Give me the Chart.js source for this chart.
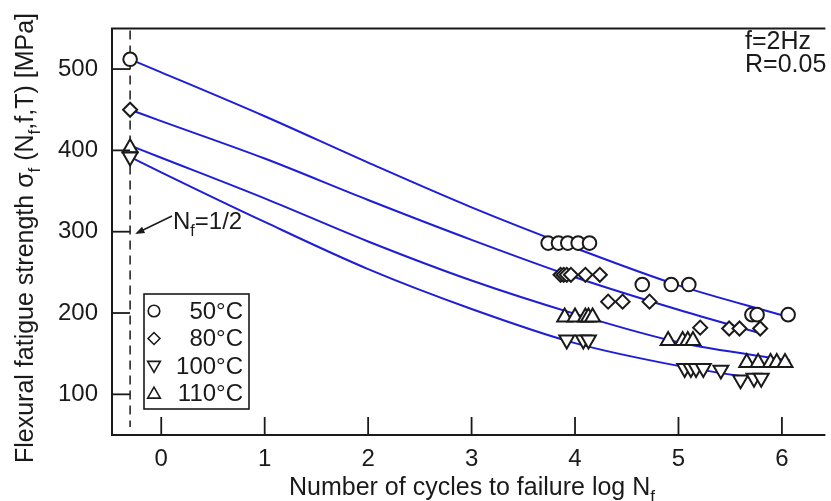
<!DOCTYPE html>
<html><head><meta charset="utf-8">
<script src="https://cdn.jsdelivr.net/npm/chart.js@4.4.0/dist/chart.umd.min.js"></script>
<style>html,body{margin:0;padding:0;background:#fff;overflow:hidden}#wrap{width:831px;height:501px;position:relative}</style>
</head><body><div id="wrap"><canvas id="c"></canvas></div>
<script>
// ---- data ----
const seriesNames = ['50°C', '80°C', '100°C', '110°C'];
const xTicks = [0, 1, 2, 3, 4, 5, 6];
const yTicks = [100, 200, 300, 400, 500];
const halfCycle = -0.301; // log10(1/2)

const pt50x = [-0.301, 3.74, 3.84, 3.93, 4.03, 4.14, 4.65, 4.93, 5.10, 5.71, 5.76, 6.06];
const pt50y = [512, 286, 286, 286, 286, 286, 235, 235, 235, 198, 198, 198];
const pt80x = [-0.301, 3.86, 3.89, 3.92, 3.96, 4.10, 4.24, 4.32, 4.46, 4.72, 5.21, 5.49, 5.59, 5.79];
const pt80y = [450, 247, 247, 247, 247, 247, 247, 214, 214, 214, 182, 181, 181, 181];
const pt100x = [-0.301, 3.92, 4.08, 4.13, 5.06, 5.12, 5.17, 5.24, 5.41, 5.60, 5.73, 5.80];
const pt100y = [392, 167, 167, 167, 132, 132, 132, 132, 130, 118, 120, 120];
const pt110x = [-0.301, 3.90, 4.00, 4.10, 4.13, 4.17, 4.90, 5.04, 5.09, 5.14, 5.66, 5.77, 5.89, 5.95, 6.03];
const pt110y = [403, 195, 195, 195, 195, 195, 166, 166, 166, 166, 139, 139, 139, 139, 139];

const fit50x = [-0.301, 0, 1, 2, 3, 4, 5, 6.01];
const fit50y = [512, 496, 442, 385, 330, 280, 234, 197];
const fit80x = [-0.301, 0, 1, 2, 3, 4, 5, 5.79];
const fit80y = [450, 436, 390, 339, 290, 244, 204, 175];
const fit100x = [-0.301, 0, 1, 2, 3, 4, 5, 5.82];
const fit100y = [392, 373, 312, 254, 205, 163, 135, 118];
const fit110x = [-0.301, 0, 1, 2, 3, 4, 5, 6, 6.08];
const fit110y = [406, 391, 341, 288, 240, 199, 164, 143, 141.5];

// ---- styles ----
const FONT = "'Liberation Sans', Arial, Helvetica, sans-serif";
const INK = '#1a1a1a';
const BLUE = 'rgb(30,30,215)';
const markerStyles = [
  {pointStyle: 'circle', rotation: 0, radius: 6.8},
  {pointStyle: 'rectRot', rotation: 0, radius: 7},
  {pointStyle: 'triangle', rotation: 180, radius: 8.6},
  {pointStyle: 'triangle', rotation: 0, radius: 8.6}
];
const ptX = [pt50x, pt80x, pt100x, pt110x];
const ptY = [pt50y, pt80y, pt100y, pt110y];
const fitX = [fit50x, fit80x, fit100x, fit110x];
const fitY = [fit50y, fit80y, fit100y, fit110y];

const zip = (xs, ys) => xs.map((x, i) => ({x: x, y: ys[i]}));

const datasets = [];
seriesNames.forEach((name, i) => {
  const m = markerStyles[i];
  datasets.push({
    label: name, data: zip(ptX[i], ptY[i]), showLine: false, order: 0,
    pointStyle: m.pointStyle, rotation: m.rotation, pointRadius: m.radius,
    pointBorderColor: INK, pointBackgroundColor: '#fff', pointBorderWidth: 2
  });
});
seriesNames.forEach((name, i) => {
  datasets.push({
    label: name + ' fit', data: zip(fitX[i], fitY[i]), showLine: true, order: 1,
    borderColor: BLUE, borderWidth: 2, pointRadius: 0, fill: false,
    cubicInterpolationMode: 'monotone'
  });
});

function drawRich(ctx, segs, x, y, size, align) {
  const subSize = Math.round(size * 0.68);
  let total = 0;
  segs.forEach(s => { ctx.font = (s.sub ? subSize : size) + 'px ' + FONT; s.w = ctx.measureText(s.t).width; total += s.w; });
  let cx = align === 'center' ? x - total / 2 : (align === 'right' ? x - total : x);
  ctx.textAlign = 'left';
  segs.forEach(s => {
    ctx.font = (s.sub ? subSize : size) + 'px ' + FONT;
    ctx.fillText(s.t, cx, y + (s.sub ? size * 0.28 : 0));
    cx += s.w;
  });
}

const decor = {
  id: 'decor',
  beforeDatasetsDraw(chart) {
    const ctx = chart.ctx, xs = chart.scales.x, a = chart.chartArea;
    ctx.save();
    const dx = xs.getPixelForValue(halfCycle);
    ctx.strokeStyle = INK; ctx.lineWidth = 1.5; ctx.setLineDash([9, 6]);
    ctx.beginPath(); ctx.moveTo(dx, a.top + 2); ctx.lineTo(dx, a.bottom - 8); ctx.stroke();
    ctx.setLineDash([]);
    ctx.restore();
  },
  afterDraw(chart) {
    const ctx = chart.ctx, xs = chart.scales.x, ys = chart.scales.y, a = chart.chartArea;
    ctx.save();
    ctx.strokeStyle = INK; ctx.fillStyle = INK; ctx.lineWidth = 2;
    ctx.beginPath();
    ctx.moveTo(a.right + 5, a.top); ctx.lineTo(a.left, a.top); ctx.lineTo(a.left, a.bottom); ctx.lineTo(a.right + 5, a.bottom);
    ctx.stroke();
    ctx.lineWidth = 1.8;
    yTicks.forEach(v => { const p = ys.getPixelForValue(v); ctx.beginPath(); ctx.moveTo(a.left, p); ctx.lineTo(a.left + 18, p); ctx.stroke(); });
    xTicks.forEach(v => { const p = xs.getPixelForValue(v); ctx.beginPath(); ctx.moveTo(p, a.bottom); ctx.lineTo(p, a.bottom - 18); ctx.stroke(); });

    ctx.textBaseline = 'alphabetic';
    drawRich(ctx, [{t: 'Number of cycles to failure log N'}, {t: 'f', sub: true}], 472, 495, 25, 'center');
    ctx.save();
    ctx.translate(33, 238); ctx.rotate(-Math.PI / 2);
    drawRich(ctx, [{t: 'Flexural fatigue strength σ'}, {t: 'f', sub: true}, {t: ' (N'}, {t: 'f', sub: true}, {t: ',f,T) [MPa]'}], 0, 0, 25, 'center');
    ctx.restore();

    ctx.font = '25px ' + FONT; ctx.textAlign = 'left'; ctx.textBaseline = 'middle';
    ctx.fillText('f=2Hz', 745, 42);
    ctx.fillText('R=0.05', 745, 65);

    ctx.textBaseline = 'alphabetic';
    drawRich(ctx, [{t: 'N'}, {t: 'f', sub: true}, {t: '=1/2'}], 173, 229, 24, 'left');
    const ax = xs.getPixelForValue(halfCycle) + 5, ay = 234;
    ctx.lineWidth = 1.5;
    ctx.beginPath(); ctx.moveTo(172, 216); ctx.lineTo(ax + 6, ay - 3); ctx.stroke();
    const ang = Math.atan2(ay - 216, ax - 172);
    ctx.beginPath();
    ctx.moveTo(ax, ay);
    ctx.lineTo(ax - 10 * Math.cos(ang - 0.35), ay - 10 * Math.sin(ang - 0.35));
    ctx.lineTo(ax - 10 * Math.cos(ang + 0.35), ay - 10 * Math.sin(ang + 0.35));
    ctx.closePath(); ctx.fill();

    const L = 144, T = 294, W = 105, H = 115;
    ctx.fillStyle = '#fff'; ctx.fillRect(L, T, W, H);
    ctx.strokeStyle = INK; ctx.lineWidth = 1.6; ctx.strokeRect(L, T, W, H);
    seriesNames.forEach((name, i) => {
      const yy = T + 17 + i * 27.5;
      const m = markerStyles[i];
      ctx.strokeStyle = INK; ctx.fillStyle = '#fff'; ctx.lineWidth = 1.6;
      Chart.helpers.drawPoint(ctx, {pointStyle: m.pointStyle, rotation: m.rotation, radius: m.radius * 0.85, borderWidth: 1.6}, 154, yy + (m.pointStyle === 'triangle' ? (m.rotation ? -1 : 1) : 0));
      ctx.fillStyle = INK; ctx.font = '24px ' + FONT; ctx.textAlign = 'right'; ctx.textBaseline = 'middle';
      ctx.fillText(name, 243, yy + 1);
    });
    ctx.restore();
  }
};

new Chart(document.getElementById('c'), {
  type: 'scatter',
  data: {datasets: datasets},
  options: {
    responsive: true, maintainAspectRatio: false, animation: false,
    layout: {padding: {top: 10, left: 0, right: 0, bottom: 0}},
    plugins: {legend: {display: false}, tooltip: {enabled: false}},
    scales: {
      x: {
        type: 'linear', min: -0.476, max: 6.372,
        afterBuildTicks: s => { s.ticks = xTicks.map(v => ({value: v})); },
        afterFit: s => { s.height = 66; },
        grid: {display: false, drawTicks: false}, border: {display: false},
        ticks: {font: {family: FONT, size: 24}, color: INK, padding: 10, maxRotation: 0, autoSkip: false, callback: v => String(v)}
      },
      y: {
        type: 'linear', min: 50, max: 550,
        afterBuildTicks: s => { s.ticks = yTicks.map(v => ({value: v})); },
        afterFit: s => { s.width = 112; },
        grid: {display: false, drawTicks: false}, border: {display: false},
        ticks: {font: {family: FONT, size: 24}, color: INK, padding: 14, autoSkip: false, callback: v => String(v)}
      }
    }
  },
  plugins: [decor]
});
</script>
</body></html>
